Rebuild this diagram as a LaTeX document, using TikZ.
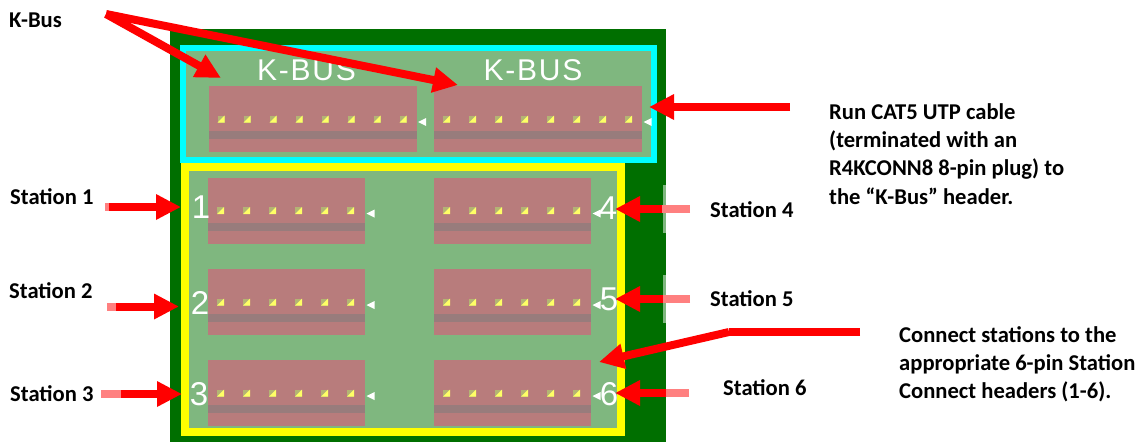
\documentclass[tikz,border=0pt]{standalone}
\usepackage{fontspec}
\setmainfont{Carlito}
\newfontfamily\silkfont[LetterSpace=6]{Liberation Sans}
\newfontfamily\numfont{Liberation Sans}
\usetikzlibrary{positioning,arrows.meta}

\definecolor{boardgreen}{HTML}{006F00}
\definecolor{padgreen}{HTML}{7FB77F}
\definecolor{headrose}{HTML}{B87C7C}
\definecolor{headbar}{HTML}{987C7C}
\definecolor{pinolive}{HTML}{B4B474}
\definecolor{pinyellow}{HTML}{FFFF66}
\definecolor{tailpink}{HTML}{FF8080}
\definecolor{edgepale}{HTML}{7FB77F}
\definecolor{kbuscyan}{HTML}{00FFFF}
\definecolor{stationyellow}{HTML}{FFFF00}
\definecolor{arrowred}{HTML}{FF0000}

\begin{document}
\begin{tikzpicture}[x=1pt,y=-1pt,
                    wide/.style={fill=headrose,minimum width=208pt,minimum height=66pt,
                                 inner sep=0pt,outer sep=0pt},
                    narrow/.style={fill=headrose,minimum width=157pt,minimum height=66pt,
                                   inner sep=0pt,outer sep=0pt},
                    silk/.style={text=white,font=\silkfont\fontsize{30}{30}\selectfont,inner sep=0pt},
                    numeral/.style={text=white,font=\numfont\fontsize{33}{33}\selectfont,inner sep=0pt},
                    callout/.style={anchor=west,align=left,inner sep=0pt,
                                    font=\bfseries\fontsize{22.6}{28.2}\selectfont},
                    redarrow/.style={draw=arrowred,line width=8pt,
                                     -{Triangle[length=25pt,width=24pt]}},
                    redtail/.style={draw=arrowred,line width=8pt},
                    pinktail/.style={draw=tailpink,line width=8pt},
                    pin/.pic={\fill[pinolive] (-3.5,-3.5) rectangle (3.5,3.5);
                              \fill[pinyellow] (3.5,-3.5) -- (3.5,3.5) -- (-3.5,3.5) -- cycle;}]
  \useasboundingbox (0,0) rectangle (1147,442);
  \fill[white] (0,0) rectangle (1147,442);

  % board, then the two outlined areas
  \fill[boardgreen] (170,29) rectangle (666,442);
  \fill[edgepale] (663,185) rectangle (666,233);
  \fill[edgepale] (663,275) rectangle (666,323);
  \filldraw[draw=kbuscyan,fill=padgreen,line width=6pt] (183,48) rectangle (654,159.5);
  \filldraw[draw=stationyellow,fill=padgreen,line width=8pt] (185,166.5) rectangle (621,431.5);

  % headers
  \node[wide] (kbusa) at (312.5,119) {};
  \node[wide,right=17.5pt of kbusa] (kbusb) {};
  \node[narrow] (sta) at (286.5,210.5) {};
  \node[narrow,below=25.5pt of sta] (stb) {};
  \node[narrow,below=25pt of stb] (stc) {};
  \node[narrow,right=69pt of sta] (std) {};
  \node[narrow,below=25.5pt of std] (ste) {};
  \node[narrow,below=25pt of ste] (stf) {};

  \foreach \head/\last in {kbusa/7,kbusb/7,sta/5,stb/5,stc/5,std/5,ste/5,stf/5} {
    \fill[headbar] ([yshift=-12pt]\head.west) rectangle ([yshift=-20pt]\head.east);
    \foreach \i in {0,...,\last}
      \pic at ([xshift={(12.5+\i*26)*1pt}]\head.west) {pin};
    \fill[white] ([xshift=1.5pt,yshift=-3pt]\head.east) -- ([xshift=9.5pt,yshift=1pt]\head.east)
      -- ([xshift=9.5pt,yshift=-7pt]\head.east) -- cycle;
  }

  % silkscreen
  \node[silk] (silka) at (306.5,70.5) {K-BUS};
  \node[silk] (silkb) at (533,70.5) {K-BUS};
  \node[numeral] (numa) at (201,207) {1};
  \node[numeral] (numb) at (200,303) {2};
  \node[numeral] (numc) at (199,394) {3};
  \node[numeral] (numd) at (608,208) {4};
  \node[numeral] (nume) at (609,299) {5};
  \node[numeral] (numf) at (609,394) {6};

  % callout texts
  \node[callout] (kbus) at (9,20) {K-Bus};
  \node[callout] (stationa) at (10,197) {Station 1};
  \node[callout] (stationb) at (9,291) {Station 2};
  \node[callout] (stationc) at (10,394) {Station 3};
  \node[callout] (stationd) at (710,210) {Station 4};
  \node[callout] (statione) at (710,299) {Station 5};
  \node[callout] (stationf) at (723,388) {Station 6};
  \node[callout] (runcable) at (829,154) {Run CAT5 UTP cable\\(terminated with an\\R4KCONN8 8-pin plug) to\\the “K-Bus” header.};
  \node[callout] (connect) at (899,364.5) {Connect stations to the\\appropriate 6-pin Station\\Connect headers (1-6).};

  % arrow ends
  \coordinate (kbusfrom) at (106,14);
  \coordinate (kbusatip) at (221,78);
  \coordinate (kbusbtip) at (458,85);
  \coordinate (runfrom) at (790,107);
  \coordinate (runtip) at (649,107);
  \coordinate (connfrom) at (860,332);
  \coordinate (connbend) at (729,332);
  \coordinate (conntip) at (599,362);

  \draw[redarrow] (kbusfrom) -- (kbusatip);
  \draw[redarrow] (kbusfrom) -- (kbusbtip);
  \draw[redarrow] (runfrom) -- (runtip);
  \draw[redtail] (connfrom) -- (connbend);
  \draw[redarrow] (connbend) -- (conntip);

  % station arrows: pale start, solid part, tip
  \foreach \name/\pale/\solid/\tip/\ypos in {a/105/109/181/207,b/107/116/179/306.5,c/101/121/182/394,
                                              d/690/662/615/209,e/690/663/615/299,f/689/666/615/393} {
    \coordinate (pale\name) at (\pale,\ypos);
    \coordinate (solid\name) at (\solid,\ypos);
    \coordinate (tip\name) at (\tip,\ypos);
    \draw[pinktail] (pale\name) -- (solid\name);
    \draw[redarrow] (solid\name) -- (tip\name);
  }
\end{tikzpicture}
\end{document}
